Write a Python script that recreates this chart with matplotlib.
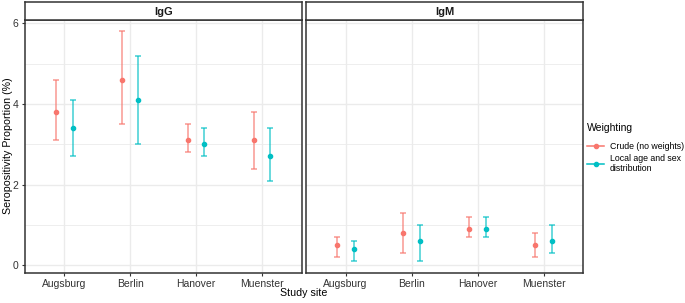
import matplotlib
matplotlib.use("Agg")
from matplotlib import pyplot as plt
from matplotlib.lines import Line2D

plt.rcParams['font.family'] = ['Liberation Sans', 'DejaVu Sans']

sites = ["Augsburg", "Berlin", "Hanover", "Muenster"]
groups = ["Crude (no weights)", "Local age and sex\ndistribution"]
colors = ["#F8766D", "#00BFC4"]

# IgG: estimate, lower, upper
igg_crude = [3.8, 4.6, 3.1, 3.1]
igg_crude_lo = [3.1, 3.5, 2.8, 2.4]
igg_crude_hi = [4.6, 5.8, 3.5, 3.8]
igg_local = [3.4, 4.1, 3.0, 2.7]
igg_local_lo = [2.7, 3.0, 2.7, 2.1]
igg_local_hi = [4.1, 5.2, 3.4, 3.4]

# IgM
igm_crude = [0.5, 0.8, 0.9, 0.5]
igm_crude_lo = [0.2, 0.3, 0.7, 0.2]
igm_crude_hi = [0.7, 1.3, 1.2, 0.8]
igm_local = [0.4, 0.6, 0.9, 0.6]
igm_local_lo = [0.1, 0.1, 0.7, 0.3]
igm_local_hi = [0.6, 1.0, 1.2, 1.0]

panels = [
    ("IgG", [(igg_crude, igg_crude_lo, igg_crude_hi), (igg_local, igg_local_lo, igg_local_hi)]),
    ("IgM", [(igm_crude, igm_crude_lo, igm_crude_hi), (igm_local, igm_local_lo, igm_local_hi)]),
]

W, H = 685, 303
fig = plt.figure(figsize=(W / 100, H / 100), dpi=100)

def box(x0, y0, x1, y1):
    return [x0 / W, 1 - y1 / H, (x1 - x0) / W, (y1 - y0) / H]

panel_x = [(24.7, 301.7), (306, 583.3)]
dodge = 0.125
for p, (title, series) in enumerate(panels):
    x0, x1 = panel_x[p]
    ax = fig.add_axes(box(x0, 20, x1, 272.7))
    strip = fig.add_axes(box(x0, 2, x1, 20))
    strip.set_xticks([])
    strip.set_yticks([])
    for s in strip.spines.values():
        s.set_color("#333333")
        s.set_linewidth(1.1)
    strip.text(0.5, 0.45, title, ha="center", va="center", fontsize=8,
               fontweight="bold", color="#1A1A1A", transform=strip.transAxes)

    for g, (est, lo, hi) in enumerate(series):
        xs = [i + 1 + (g * 2 - 1) * dodge for i in range(len(sites))]
        yerr = [[e - l for e, l in zip(est, lo)], [h - e for e, h in zip(est, hi)]]
        ax.errorbar(xs, est, yerr=yerr, fmt="none", ecolor=colors[g],
                    elinewidth=1.1, capsize=2.2, capthick=1.1, alpha=0.75, zorder=3)
        ax.plot(xs, est, "o", color=colors[g], markersize=3, zorder=4)

    ax.set_xlim(0.4, 4.6)
    ax.set_ylim(-0.185, 6.085)
    ax.set_xticks(range(1, 5))
    ax.set_xticklabels(sites)
    ax.set_yticks([0, 2, 4, 6])
    ax.set_yticks([1, 3, 5], minor=True)
    ax.grid(True, which="major", color="#EBEBEB", linewidth=1.0, zorder=0)
    ax.grid(True, which="minor", axis="y", color="#EBEBEB", linewidth=0.6, zorder=0)
    ax.set_axisbelow(True)
    ax.tick_params(which="minor", length=0)
    ax.tick_params(which="major", length=2.5, width=0.8, color="#333333",
                   labelsize=7.5, labelcolor="#333333", pad=2)
    if p == 1:
        ax.tick_params(axis="y", labelleft=False, length=0)
    for s in ax.spines.values():
        s.set_color("#333333")
        s.set_linewidth(1.1)

fig.text(8 / W, 1 - 146 / H, "Seropositivity Proportion (%)", rotation=90,
         ha="center", va="center", fontsize=7.7, color="#000000")
fig.text(304 / W, 1 - 293 / H, "Study site", ha="center", va="center",
         fontsize=7.7, color="#000000")

# legend
leg_handles = [Line2D([0], [0], color=c, marker="o", markersize=3, linewidth=1.1)
               for c in colors]
leg = fig.legend(leg_handles, groups, title="Weighting", loc="upper left",
                 bbox_to_anchor=(585 / W, 1 - 121 / H), frameon=False,
                 fontsize=6.3, title_fontsize=7.5, handlelength=2.0,
                 handletextpad=0.6, labelspacing=0.3, borderaxespad=0,
                 borderpad=0.2)
leg._legend_box.align = "left"
leg._legend_box.sep = 7

fig.savefig("out.png", dpi=100)
